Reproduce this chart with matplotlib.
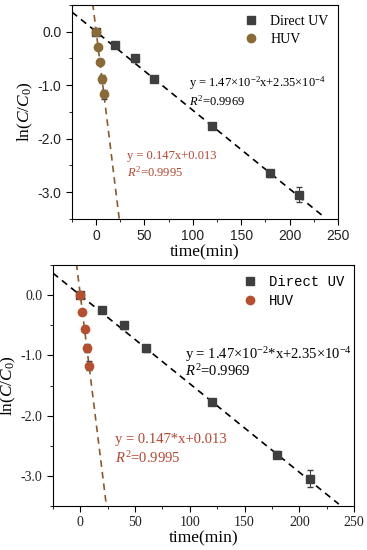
import numpy as np
import matplotlib.pyplot as plt
from matplotlib.ticker import MultipleLocator

# data
t_uv = [0, 20, 40, 60, 120, 180, 210]
y_uv = [0.0, -0.25, -0.50, -0.88, -1.77, -2.65, -3.05]
e_uv = [0.02, 0.03, 0.06, 0.06, 0.04, 0.06, 0.14]
t_huv = [0, 2, 4, 6, 8]
y_huv = [0.0, -0.28, -0.56, -0.88, -1.17]
e_huv = [0.03, 0.04, 0.05, 0.07, 0.08]

k_uv, b_uv = -1.47e-2, 2.35e-4
k_huv, b_huv = -0.147, 0.013

RED = '#b5452f'


def panel(ax, tickfont, legfont, huv_color, eq_uv, eq_huv, eqsize, pos):
    ax.errorbar(t_uv, y_uv, yerr=e_uv, fmt='none', ecolor='#3f3f3f',
                elinewidth=0.8, capsize=2, zorder=3)
    ax.errorbar(t_huv, y_huv, yerr=e_huv, fmt='none', ecolor='#3f3f3f',
                elinewidth=0.8, capsize=2, zorder=3)
    ax.plot(t_uv, y_uv, 's', color='#3f3f3f', ms=5.5, label='Direct UV', zorder=4)
    ax.plot(t_huv, y_huv, 'o', color=huv_color, ms=6, label='HUV', zorder=4)
    xs = np.array([-25, 236])
    ax.plot(xs, k_uv * xs + b_uv, ls=(0, (4, 3)), color='black', lw=1.2, zorder=2)
    xh = np.array([-3.5, 25])
    ax.plot(xh, k_huv * xh + b_huv, ls=(0, (4, 3)), color='#8b5a2b', lw=1.2, zorder=2)
    ax.set_xlim(-25, 250)
    ax.set_ylim(-3.5, 0.5)
    ax.xaxis.set_major_locator(MultipleLocator(50))
    ax.xaxis.set_minor_locator(MultipleLocator(25))
    ax.yaxis.set_minor_locator(MultipleLocator(0.5))
    ax.set_yticks([0, -1, -2, -3])
    ax.set_yticklabels(['0.0', '-1.0', '-2.0', '-3.0'])
    ax.tick_params(which='both', direction='out', top=False, right=False)
    ax.tick_params(which='major', length=4)
    ax.tick_params(which='minor', length=2)
    for lab in ax.get_xticklabels() + ax.get_yticklabels():
        lab.set_fontfamily(tickfont)
        lab.set_fontsize(10)
        lab.set_color('#222222')
    ax.set_xlabel('time(min)', family='Liberation Serif', fontsize=12.5, labelpad=1)
    ax.set_ylabel(r'ln($\mathit{C/C}_0$)', family='Liberation Serif', fontsize=12.5,
                  labelpad=2)
    ax.legend(loc='upper right', frameon=False, prop={'family': legfont, 'size': 10},
              handletextpad=0.6, borderaxespad=0.3, labelspacing=0.35,
              handlelength=1.5)
    x1, y1, y2, x2, y3, y4 = pos
    ax.text(x1, y1, eq_uv, transform=ax.transAxes, family='Liberation Serif',
            fontsize=eqsize, color='black')
    ax.text(x1, y2, r'$\mathit{R}^2$=0.9969', transform=ax.transAxes,
            family='Liberation Serif', fontsize=eqsize, color='black')
    ax.text(x2, y3, eq_huv, transform=ax.transAxes, family='Liberation Serif',
            fontsize=eqsize, color=RED)
    ax.text(x2, y4, r'$\mathit{R}^2$=0.9995', transform=ax.transAxes,
            family='Liberation Serif', fontsize=eqsize, color=RED)


plt.rcParams['mathtext.fontset'] = 'custom'
plt.rcParams['mathtext.rm'] = 'Liberation Serif'
plt.rcParams['mathtext.it'] = 'Liberation Serif:italic'

fig = plt.figure(figsize=(3.67, 5.5), dpi=100)
ax1 = fig.add_axes([0.196, 0.602, 0.725, 0.389])
ax2 = fig.add_axes([0.144, 0.080, 0.821, 0.438])

panel(ax1, 'Liberation Sans', 'Liberation Serif', '#8a6a35',
      r'y = 1.47$\times$10$^{-2}$x+2.35$\times$10$^{-4}$',
      'y = 0.147x+0.013', 9,
      (0.44, 0.62, 0.53, 0.207, 0.28, 0.20))
panel(ax2, 'Liberation Serif', 'Liberation Mono', '#b5502f',
      r'y = 1.47$\times$10$^{-2}$*x+2.35$\times$10$^{-4}$',
      'y = 0.147*x+0.013', 10.5,
      (0.44, 0.61, 0.54, 0.206, 0.26, 0.18))

fig.savefig('out.png', dpi=100)
